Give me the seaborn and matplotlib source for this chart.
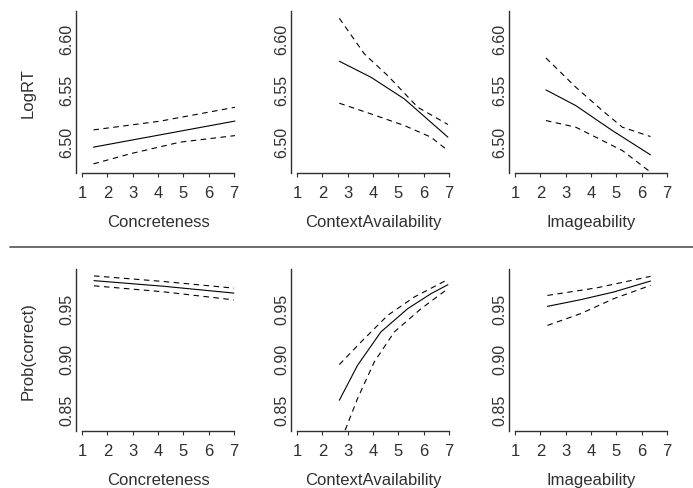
import matplotlib
matplotlib.use("Agg")
import matplotlib.pyplot as plt
import seaborn as sns
from matplotlib.lines import Line2D

sns.set_style("white")
plt.rcParams["font.family"] = ["Liberation Sans", "DejaVu Sans"]

predictors = ["Concreteness", "ContextAvailability", "Imageability"]
responses = ["LogRT", "Prob(correct)"]
x_ticks = [1, 2, 3, 4, 5, 6, 7]
y_ticks = [[6.50, 6.55, 6.60], [0.85, 0.90, 0.95]]
y_ticklabels = [["6.50", "6.55", "6.60"], ["0.85", "0.90", "0.95"]]
y_limits = [(6.470, 6.626), (0.8285, 0.9885)]

# LogRT panels: (x, y) per line; fit solid, bounds dashed
rt_conc_fit_x = [1.45, 7.04]
rt_conc_fit_y = [6.4949, 6.5200]
rt_conc_up_x = [1.45, 4.08, 7.04]
rt_conc_up_y = [6.5115, 6.5199, 6.5333]
rt_conc_lo_x = [1.45, 2.90, 4.87, 7.04]
rt_conc_lo_y = [6.4788, 6.4885, 6.4997, 6.5060]

rt_ctx_fit_x = [2.67, 3.92, 5.24, 6.96]
rt_ctx_fit_y = [6.5776, 6.5622, 6.5413, 6.5045]
rt_ctx_up_x = [2.67, 3.66, 4.58, 5.77, 6.96]
rt_ctx_up_y = [6.6190, 6.5846, 6.5638, 6.5333, 6.5167]
rt_ctx_lo_x = [2.67, 3.92, 5.24, 6.29, 6.96]
rt_ctx_lo_y = [6.5372, 6.5269, 6.5157, 6.5045, 6.4916]

rt_img_fit_x = [2.22, 3.40, 4.84, 6.35]
rt_img_fit_y = [6.5500, 6.5349, 6.5109, 6.4875]
rt_img_up_x = [2.22, 3.40, 4.45, 5.24, 6.35]
rt_img_up_y = [6.5808, 6.5526, 6.5301, 6.5141, 6.5051]
rt_img_lo_x = [2.22, 3.40, 4.45, 5.24, 6.35]
rt_img_lo_y = [6.5205, 6.5141, 6.5013, 6.4916, 6.4709]

# Prob(correct) panels
pc_conc_fit_x = [1.47, 4.2, 7.0]
pc_conc_fit_y = [0.9770, 0.9715, 0.9647]
pc_conc_up_x = [1.47, 4.2, 7.0]
pc_conc_up_y = [0.9817, 0.9762, 0.9696]
pc_conc_lo_x = [1.47, 4.2, 7.0]
pc_conc_lo_y = [0.9719, 0.9660, 0.9580]

pc_ctx_fit_x = [2.67, 3.39, 4.31, 5.37, 6.29, 6.96]
pc_ctx_fit_y = [0.8589, 0.8934, 0.9263, 0.9493, 0.9641, 0.9730]
pc_ctx_up_x = [2.67, 3.53, 4.58, 5.63, 6.96]
pc_ctx_up_y = [0.8941, 0.9165, 0.9427, 0.9608, 0.9782]
pc_ctx_lo_x = [2.90, 3.39, 4.05, 4.84, 5.90, 6.96]
pc_ctx_lo_y = [0.8293, 0.8606, 0.8967, 0.9263, 0.9493, 0.9690]

pc_img_fit_x = [2.28, 3.59, 4.90, 6.35]
pc_img_fit_y = [0.9516, 0.9582, 0.9658, 0.9766]
pc_img_up_x = [2.28, 4.25, 6.35]
pc_img_up_y = [0.9624, 0.9700, 0.9812]
pc_img_lo_x = [2.28, 3.59, 4.90, 6.35]
pc_img_lo_y = [0.9328, 0.9444, 0.9592, 0.9723]

panels = [
    [(rt_conc_fit_x, rt_conc_fit_y, rt_conc_up_x, rt_conc_up_y, rt_conc_lo_x, rt_conc_lo_y),
     (rt_ctx_fit_x, rt_ctx_fit_y, rt_ctx_up_x, rt_ctx_up_y, rt_ctx_lo_x, rt_ctx_lo_y),
     (rt_img_fit_x, rt_img_fit_y, rt_img_up_x, rt_img_up_y, rt_img_lo_x, rt_img_lo_y)],
    [(pc_conc_fit_x, pc_conc_fit_y, pc_conc_up_x, pc_conc_up_y, pc_conc_lo_x, pc_conc_lo_y),
     (pc_ctx_fit_x, pc_ctx_fit_y, pc_ctx_up_x, pc_ctx_up_y, pc_ctx_lo_x, pc_ctx_lo_y),
     (pc_img_fit_x, pc_img_fit_y, pc_img_up_x, pc_img_up_y, pc_img_lo_x, pc_img_lo_y)],
]

W, H = 693, 489
fig = plt.figure(figsize=(W / 100, H / 100), dpi=100)

lefts = [76, 291, 509]
tops = [12, 270]
ax_w, ax_h = 164, 162
ink = "#303030"

for r in range(2):
    for c in range(3):
        ax = fig.add_axes([lefts[c] / W, (H - tops[r] - ax_h) / H, ax_w / W, ax_h / H])
        fx, fy, ux, uy, lx, ly = panels[r][c]
        sns.lineplot(x=fx, y=fy, ax=ax, color="black", linewidth=0.8, sort=False)
        for bx, by in [(ux, uy), (lx, ly)]:
            sns.lineplot(x=bx, y=by, ax=ax, color="black", linewidth=0.8,
                         sort=False, linestyle=(0, (5, 4)))
        ax.set_xlim(0.76, 7.24)
        ax.set_ylim(*y_limits[r])
        ax.set_xticks(x_ticks)
        ax.set_xticklabels([str(t) for t in x_ticks])
        ax.set_yticks(y_ticks[r])
        ax.set_yticklabels(y_ticklabels[r], rotation=90, va="center", ha="right")
        sns.despine(ax=ax)
        ax.spines["bottom"].set_bounds(1, 7)
        for s in ("left", "bottom"):
            ax.spines[s].set_color(ink)
            ax.spines[s].set_linewidth(1.0)
        ax.tick_params(axis="x", length=3, width=0.8, color=ink, pad=6,
                       labelsize=12, labelcolor=ink, bottom=True)
        ax.tick_params(axis="y", length=0, pad=1, labelsize=11.5, labelcolor=ink)
        ax.set_xlabel(predictors[c], fontsize=12, color=ink, labelpad=10)
        if c == 0:
            ax.set_ylabel(responses[r], fontsize=12, color=ink)
            ax.yaxis.set_label_coords(-0.245, 0.5)
        else:
            ax.set_ylabel("")

fig.add_artist(Line2D([10 / W, 1.0], [(H - 247.5) / H] * 2,
                      transform=fig.transFigure, color="#606060", linewidth=1.3))

fig.savefig("out.png", dpi=100, facecolor="white")
